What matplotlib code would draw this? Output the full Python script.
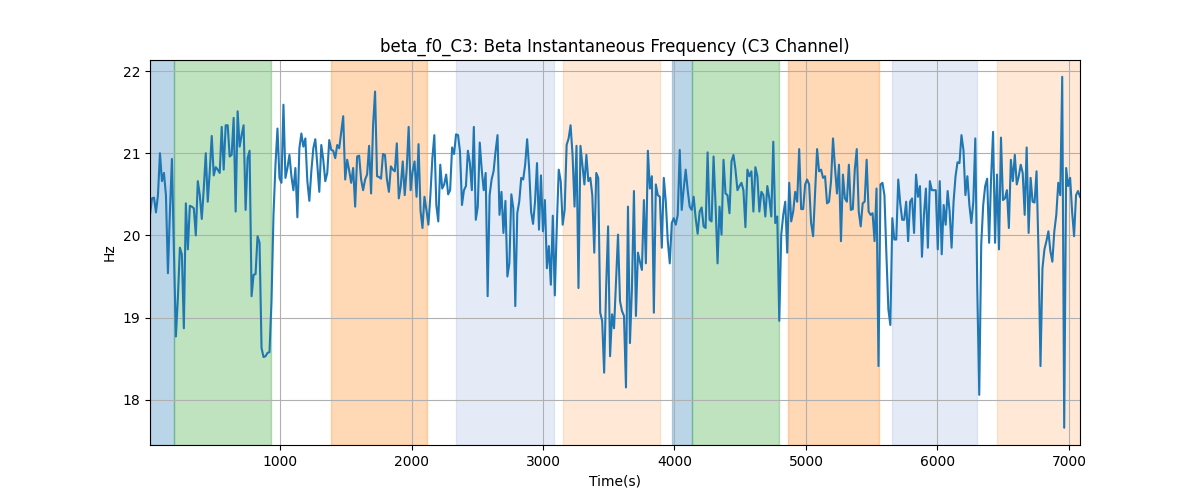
import numpy as np
import matplotlib
matplotlib.use("Agg")
import matplotlib.pyplot as plt

# segment time bounds (s) for the sampled frequency trace
seg_bounds = [(11, 1753), (1768, 3510), (3525, 5251), (5266, 7084)]

seg1 = [20.25, 20.45, 20.46, 20.28, 20.49, 21.0, 20.66, 20.76, 20.49, 19.54, 20.29, 20.93, 19.81, 18.77,
        19.24, 19.85, 19.77, 18.87, 20.39, 19.83, 20.36, 20.35, 20.33, 20.0, 20.66, 20.49, 20.2, 20.57,
        21.0, 20.41, 20.78, 21.21, 20.73, 20.83, 20.8, 20.76, 21.32, 20.8, 21.34, 21.34, 20.96, 20.98,
        21.43, 20.29, 21.51, 21.08, 21.22, 21.34, 20.31, 20.94, 21.03, 19.26, 19.52, 19.53, 19.99, 19.91,
        18.63, 18.52, 18.53, 18.57, 18.58, 19.2, 20.25, 20.86, 21.3, 20.7, 20.64, 21.59, 20.7, 20.82,
        20.98, 20.72, 20.55, 20.82, 20.22, 21.06, 21.24, 21.08, 21.18, 20.66, 20.42, 20.78, 21.06, 21.17,
        20.86, 20.53, 21.1, 20.92, 20.66, 20.76, 21.16, 21.04, 21.03, 20.94, 21.1, 21.06, 21.26, 21.45,
        20.68, 20.92, 20.79, 20.64, 20.82, 20.35, 20.96, 20.97, 20.68, 20.55, 20.68, 20.74, 21.09, 20.51,
        21.34, 21.75, 20.72, 20.71]

seg2 = [20.69, 20.99, 20.98, 20.68, 20.53, 20.84, 20.8, 20.78, 21.12, 20.45, 20.6, 20.9, 20.49, 20.8,
        21.32, 20.55, 20.78, 20.9, 20.47, 21.11, 20.3, 20.09, 20.47, 20.31, 20.13, 20.49, 20.94, 21.22,
        20.37, 20.17, 20.86, 20.57, 20.62, 20.74, 20.5, 20.55, 21.07, 20.99, 21.23, 21.22, 21.02, 20.37,
        20.55, 20.6, 21.03, 20.88, 20.55, 21.32, 20.19, 20.35, 21.13, 20.8, 20.55, 20.76, 19.26, 20.49,
        20.68, 20.78, 21.02, 21.22, 20.25, 20.53, 20.03, 20.42, 19.5, 19.66, 20.5, 20.33, 19.14, 20.27,
        20.41, 20.7, 20.68, 20.86, 21.17, 20.82, 20.29, 20.14, 20.41, 20.88, 20.07, 20.73, 20.05, 20.43,
        19.6, 19.87, 19.4, 20.24, 19.27, 20.09, 20.8, 20.66, 20.13, 20.31, 21.1, 21.18, 21.34, 20.98,
        20.35, 21.09, 19.36, 21.09, 20.86, 20.62, 20.98, 20.66, 20.7, 20.49, 19.79, 20.76, 20.7, 19.06,
        18.96, 18.33, 19.36, 20.11, 18.53]

seg3 = [19.04, 18.87, 19.44, 20.01, 19.2, 19.08, 19.02, 18.15, 20.35, 18.69, 19.36, 20.54, 19.02, 19.79,
        19.68, 19.58, 20.43, 19.66, 21.03, 20.57, 20.72, 19.06, 20.62, 20.49, 20.47, 19.85, 20.7, 20.41,
        19.93, 19.66, 20.15, 20.21, 20.13, 20.25, 21.04, 20.31, 20.57, 20.8, 20.55, 20.35, 20.31, 20.47,
        20.21, 20.02, 20.29, 20.34, 20.11, 20.09, 21.01, 20.19, 20.17, 20.96, 20.37, 19.66, 20.35, 20.01,
        20.92, 20.51, 20.49, 20.27, 20.9, 20.98, 20.8, 20.55, 20.6, 20.64, 20.55, 20.1, 20.8, 20.72,
        20.78, 20.29, 20.83, 20.72, 20.29, 20.53, 20.49, 20.23, 20.6, 20.45, 20.23, 21.14, 20.15, 20.23,
        18.96, 20.01, 20.25, 20.41, 19.79, 20.64, 20.17, 20.29, 20.53, 20.41, 21.05, 20.32, 20.32, 20.62,
        20.68, 20.62, 20.15, 19.99, 20.53, 21.05, 20.78, 20.8, 20.7, 20.72, 20.39, 20.41, 20.66, 21.18,
        20.82, 20.51, 20.86]

seg4 = [19.93, 20.74, 20.45, 20.41, 20.86, 20.31, 20.32, 20.8, 21.05, 20.29, 20.11, 20.39, 20.41, 20.92,
        20.29, 20.25, 20.27, 19.93, 20.57, 18.41, 20.62, 20.64, 20.49, 19.77, 19.1, 18.91, 20.21, 19.95,
        19.95, 20.68, 20.39, 20.19, 20.19, 20.41, 19.93, 20.41, 20.45, 20.03, 20.74, 20.47, 20.6, 19.74,
        20.25, 20.57, 19.85, 20.66, 20.55, 20.55, 20.55, 19.83, 20.66, 19.77, 20.37, 20.13, 20.54, 20.29,
        19.85, 20.41, 20.72, 20.89, 20.88, 21.22, 21.04, 20.49, 20.72, 20.37, 20.15, 20.41, 21.18, 19.36,
        18.06, 19.89, 20.37, 20.6, 20.69, 19.91, 20.7, 21.26, 19.91, 20.74, 19.83, 21.19, 20.43, 20.45,
        20.55, 20.09, 20.92, 20.66, 20.98, 20.62, 20.72, 20.86, 20.76, 20.25, 21.07, 20.03, 20.7, 20.41,
        20.4, 20.78, 19.81, 18.41, 19.6, 19.83, 19.93, 20.05, 19.81, 19.68, 20.05, 20.25, 20.64, 20.49,
        21.93, 17.66, 20.82, 20.6, 20.7, 20.29, 19.99, 20.49, 20.54, 20.47]

# shaded intervals: (start, end, colour, alpha)
span_starts = [11, 196, 1388, 2338, 3155, 3981, 4135, 4866, 5654, 6452]
span_ends = [196, 929, 2121, 3080, 3888, 4135, 4793, 5552, 6304, 7084]
span_colors = ["tab:blue", "tab:green", "tab:orange", "#648cd2", "tab:orange",
               "tab:blue", "tab:green", "tab:orange", "#648cd2", "tab:orange"]
span_alphas = [0.3, 0.3, 0.3, 0.17, 0.17, 0.3, 0.3, 0.3, 0.17, 0.17]

segments = [seg1, seg2, seg3, seg4]
times = np.concatenate([np.linspace(a, b, len(s)) for (a, b), s in zip(seg_bounds, segments)])
values = np.concatenate([np.array(s) for s in segments])

fig, ax = plt.subplots(figsize=(12, 5), dpi=100)
for s, e, c, a in zip(span_starts, span_ends, span_colors, span_alphas):
    ax.axvspan(s, e, color=c, alpha=a)
ax.plot(times, values, color="tab:blue", linewidth=1.5)
ax.set_xlim(times[0], times[-1])
ax.set_ylim(17.45, 22.134)
ax.grid(True)
ax.set_title("beta_f0_C3: Beta Instantaneous Frequency (C3 Channel)")
ax.set_xlabel("Time(s)")
ax.set_ylabel("Hz")
fig.savefig("out.png", dpi=100)
